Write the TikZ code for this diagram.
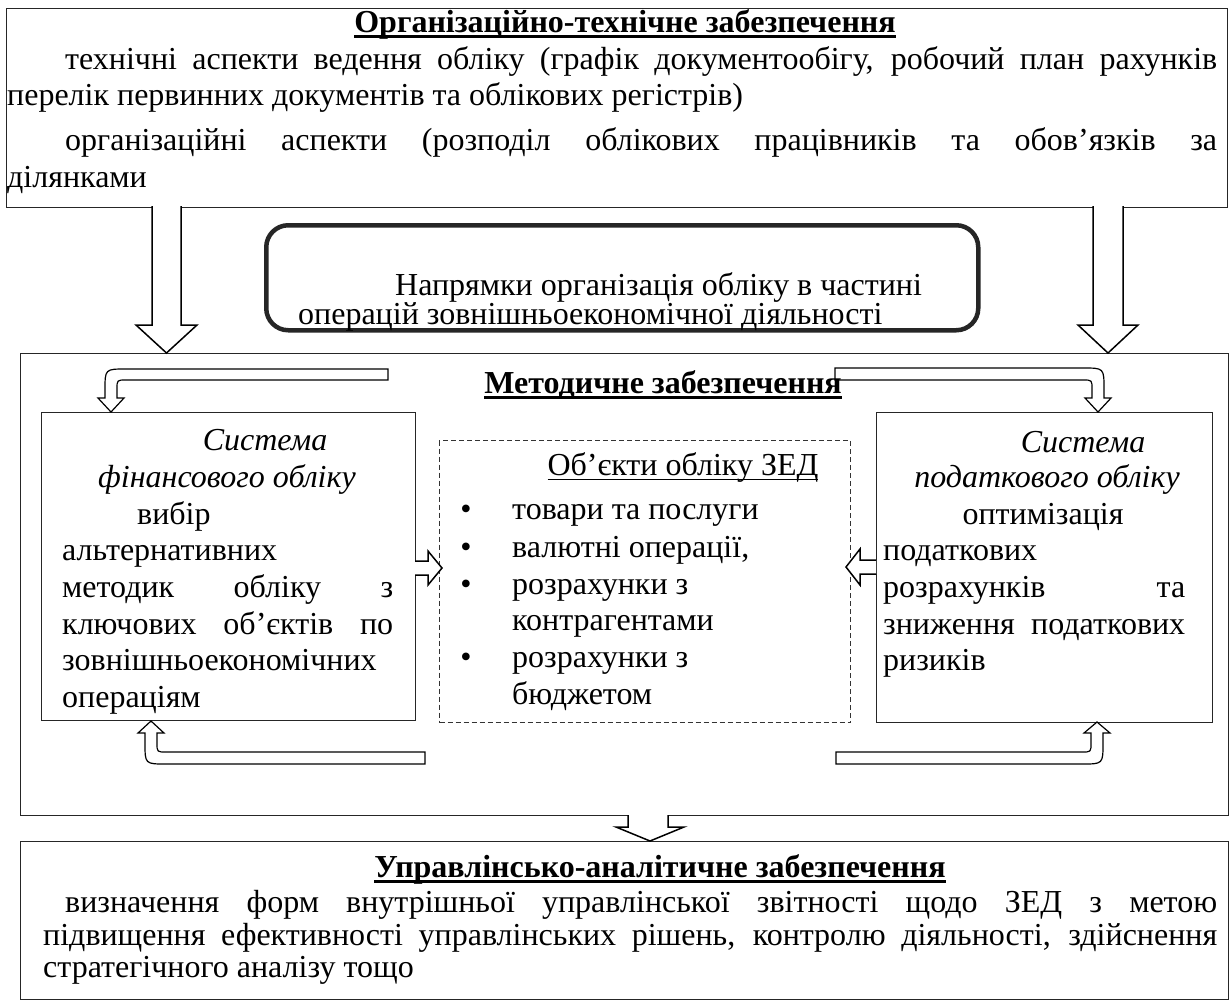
\documentclass[tikz,border=0pt]{standalone}
\usepackage{fontspec}
\setmainfont{Liberation Serif}
\newcommand\thul[1]{\setbox0=\hbox{#1}\rlap{\rule[-5pt]{\wd0}{2.6pt}}\box0}
\newcommand\thinul[1]{\setbox0=\hbox{#1}\rlap{\rule[-4.5pt]{\wd0}{1.3pt}}\box0}
\begin{document}
\begin{tikzpicture}[x=1pt,y=-1pt,
  txt/.style={inner sep=0pt, font=\fontsize{32}{36.7}\selectfont, text height=22pt, text depth=7pt},
  box/.style={draw=black!85, line width=1.3pt, fill=white, inner sep=0pt, anchor=north west},
  arr/.style={draw=black, line width=1.5pt, fill=white, line join=miter},
  barr/.style={draw=black, line width=1.2pt, line join=miter}]
\useasboundingbox (0,0) rectangle (1231,1002);
\fill[white] (0,0) rectangle (1231,1002);

% boxes
\node[box, minimum width=1221pt, minimum height=199pt] (topbox) at (6,8) {};
\node[box, line width=4.5pt, rounded corners=22pt, minimum width=712pt, minimum height=105pt] (dirbox) at (264,223) {};
\node[box, minimum width=1208pt, minimum height=462pt] (metbox) at (20,353) {};
\node[box, minimum width=374pt, minimum height=308pt] (finbox) at (41,412) {};
\node[box, draw=black!80, line width=1pt, dash pattern=on 5pt off 3pt, minimum width=411pt, minimum height=282pt] (objbox) at (439,440) {};
\node[box, minimum width=336pt, minimum height=310pt] (taxbox) at (876,412) {};
\node[box, minimum width=1208pt, minimum height=158pt] (mgmbox) at (20,841) {};

% big arrows
\draw[arr] (152,206) -- (152,325) -- (136,325) -- (166.5,353) -- (197,325) -- (181,325) -- (181,206);
\draw[arr] (1093,206) -- (1093,325) -- (1078,325) -- (1108,353) -- (1138,325) -- (1123,325) -- (1123,206);
\draw[arr] (628,815) -- (628,827) -- (616,827) -- (650,841) -- (684,827) -- (668,827) -- (668,815);

% small horizontal arrows
\draw[arr] (415,561) -- (428,561) -- (428,551) -- (442,568) -- (428,585) -- (428,575) -- (415,575);
\draw[arr] (876,560) -- (860,560) -- (860,549) -- (846,567) -- (860,585) -- (860,574) -- (876,574);

% top box text
\node[txt] (t0) at (625,25) {\bfseries\thul{Організаційно-технічне забезпечення}};
\node[txt, anchor=west] (t1) at (65,62) {\makebox[1152pt][s]{технічні аспекти ведення обліку (графік документообігу, робочий план рахунків}};
\node[txt, anchor=west] (t2) at (7,98) {перелік первинних документів та облікових регістрів)};
\node[txt, anchor=west] (t3) at (65,143) {\makebox[1152pt][s]{організаційні аспекти (розподіл облікових працівників та обов’язків за}};
\node[txt, anchor=west] (t4) at (7,180) {ділянками};

% direction box text
\node[txt, anchor=west] (n1) at (395,288) {Напрямки організація обліку в частині};
\node[txt, anchor=west] (n2) at (298,317) {операцій зовнішньоекономічної діяльності};

% methodical title
\node[txt] (m0) at (663,386) {\bfseries\thul{Методичне забезпечення}};

% bent arrows
\draw[barr] (388,369) -- (126,369) .. controls (105,369) .. (105,390) -- (105,398) -- (98,398) -- (111,412) -- (124,398) -- (117,398) -- (117,389) .. controls (117,380) .. (126,380) -- (388,380) -- cycle;
\draw[barr] (835,368) -- (1083,368) .. controls (1104,368) .. (1104,389) -- (1104,398) -- (1111,398) -- (1098,412) -- (1085,398) -- (1092,398) -- (1092,389) .. controls (1092,380) .. (1083,380) -- (835,380) -- cycle;
\draw[barr] (425,764) -- (166,764) .. controls (145,764) .. (145,743) -- (145,733) -- (138,733) -- (151,721) -- (164,733) -- (157,733) -- (157,743) .. controls (157,752) .. (166,752) -- (425,752) -- cycle;
\draw[barr] (836,764) -- (1082,764) .. controls (1103,764) .. (1103,743) -- (1103,733) -- (1110,733) -- (1097,722) -- (1084,733) -- (1091,733) -- (1091,743) .. controls (1091,752) .. (1082,752) -- (836,752) -- cycle;

% financial box
\node[txt] (l1) at (265,443) {\itshape Система};
\node[txt] (l2) at (227,480) {\itshape фінансового обліку};
\node[txt, anchor=west] (l3) at (137,517) {вибір};
\node[txt, anchor=west] (l4) at (62,553) {альтернативних};
\node[txt, anchor=west] (l5) at (62,590) {\makebox[331pt][s]{методик обліку з}};
\node[txt, anchor=west] (l6) at (62,627) {\makebox[331pt][s]{ключових об’єктів по}};
\node[txt, anchor=west] (l7) at (62,663) {зовнішньоекономічних};
\node[txt, anchor=west] (l8) at (62,700) {операціям};

% objects box
\node[txt] (d0) at (683,468) {\thinul{Об’єкти обліку ЗЕД}};
\node[txt] (b1) at (466,512) {•};
\node[txt, anchor=west] (d1) at (512,512) {товари та послуги};
\node[txt] (b2) at (466,550) {•};
\node[txt, anchor=west] (d2) at (512,550) {валютні операції,};
\node[txt] (b3) at (466,587) {•};
\node[txt, anchor=west] (d3) at (512,587) {розрахунки з};
\node[txt, anchor=west] (d4) at (512,623) {контрагентами};
\node[txt] (b4) at (466,660) {•};
\node[txt, anchor=west] (d5) at (512,660) {розрахунки з};
\node[txt, anchor=west] (d6) at (512,697) {бюджетом};

% tax box
\node[txt] (r1) at (1083,445) {\itshape Система};
\node[txt] (r2) at (1047,480) {\itshape податкового обліку};
\node[txt] (r3) at (1043,517) {оптимізація};
\node[txt, anchor=west] (r4) at (883,553) {податкових};
\node[txt, anchor=west] (r5) at (883,590) {\makebox[302pt][s]{розрахунків та}};
\node[txt, anchor=west] (r6) at (883,627) {\makebox[302pt][s]{зниження податкових}};
\node[txt, anchor=west] (r7) at (883,663) {ризиків};

% management box
\node[txt] (u0) at (660,870) {\bfseries\thul{Управлінсько-аналітичне забезпечення}};
\node[txt, anchor=west] (u1) at (65,905) {\makebox[1152pt][s]{визначення форм внутрішньої управлінської звітності щодо ЗЕД з метою}};
\node[txt, anchor=west] (u2) at (43,938) {\makebox[1174pt][s]{підвищення ефективності управлінських рішень, контролю діяльності, здійснення}};
\node[txt, anchor=west] (u3) at (43,970) {стратегічного аналізу тощо};
\end{tikzpicture}
\end{document}
